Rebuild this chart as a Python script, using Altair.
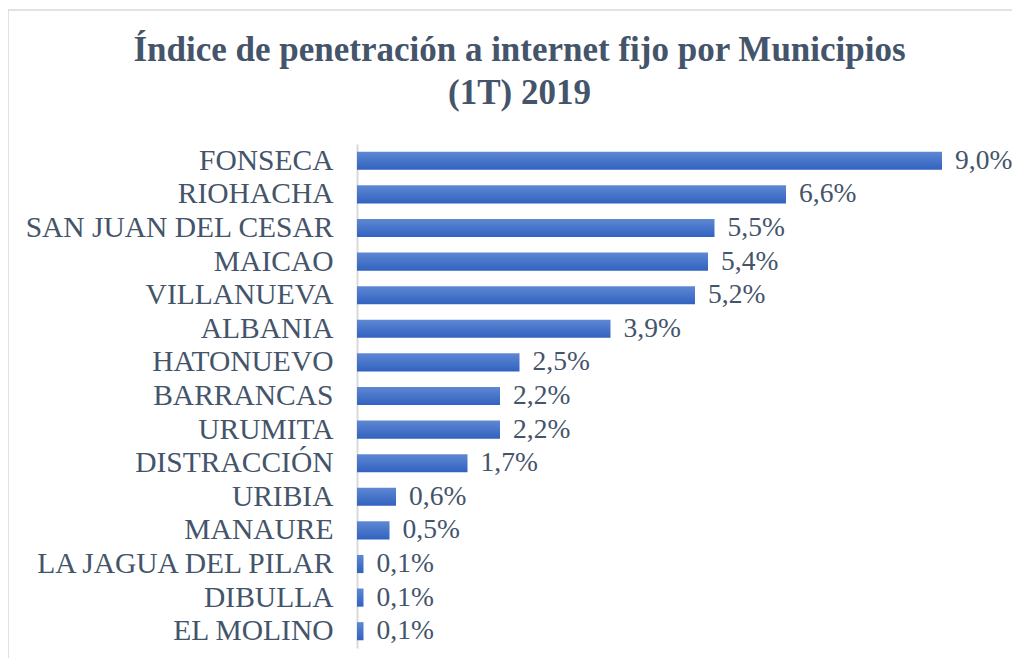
import altair as alt
import pandas as pd

municipios = ["FONSECA", "RIOHACHA", "SAN JUAN DEL CESAR", "MAICAO", "VILLANUEVA",
              "ALBANIA", "HATONUEVO", "BARRANCAS", "URUMITA", "DISTRACCIÓN",
              "URIBIA", "MANAURE", "LA JAGUA DEL PILAR", "DIBULLA", "EL MOLINO"]
valores = [9.0, 6.6, 5.5, 5.4, 5.2, 3.9, 2.5, 2.2, 2.2, 1.7, 0.6, 0.5, 0.1, 0.1, 0.1]

df = pd.DataFrame({
    "municipio": municipios,
    "valor": valores,
    "etiqueta": [f"{v:.1f}".replace(".", ",") + "%" for v in valores],
})

FONT = "Liberation Serif"
TXT = "#44546a"

gradient = alt.Gradient(
    gradient="linear",
    stops=[alt.GradientStop(color="#5f88d4", offset=0),
           alt.GradientStop(color="#3162bf", offset=1)],
    x1=0, x2=0, y1=0, y2=1,
)

base = alt.Chart(df)

y_enc = alt.Y("municipio:N", sort=municipios,
              scale=alt.Scale(paddingInner=0.46, paddingOuter=0.23),
              axis=alt.Axis(title=None, ticks=False, labelFont=FONT, labelFontSize=29.5,
                            labelColor=TXT, labelPadding=24, domainColor="#d9d9d9",
                            domainWidth=2, labelLimit=400))
x_enc = alt.X("valor:Q", scale=alt.Scale(domain=[0, 9], nice=False),
              axis=None)

bars = base.mark_bar(color=gradient).encode(y=y_enc, x=x_enc)
labels = base.mark_text(align="left", baseline="middle", dx=13, font=FONT,
                        fontSize=27.5, color=TXT).encode(
    y=alt.Y("municipio:N", sort=municipios), x="valor:Q", text="etiqueta:N")

border = alt.Chart(pd.DataFrame({"a": [0]})).mark_rect(
    fill=None, stroke="#d9d9d9", strokeWidth=1.5).encode(
    x=alt.value(-349), x2=alt.value(700), y=alt.value(-134), y2=alt.value(560))

chart = alt.layer(border, bars, labels).properties(
    width=585, height=504,
    autosize=alt.AutoSizeParams(type="none"),
    padding={"left": 349, "top": 136, "right": 70, "bottom": 10},
    title=alt.TitleParams(
        text=["Índice de penetración a internet fijo por Municipios", "(1T) 2019"],
        font=FONT, fontSize=35, fontWeight="bold", color=TXT,
        anchor="middle", dx=-130, offset=-102, lineHeight=43),
).configure_view(stroke=None)

chart.save("out.html", embed_options={"renderer": "svg", "actions": False})
